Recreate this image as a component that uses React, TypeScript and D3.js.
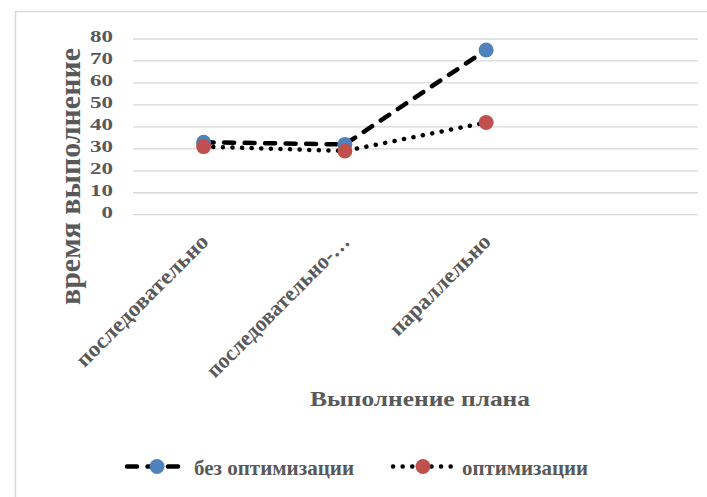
import React from "react";
import * as d3 from "d3";

const categories = ["последовательно", "последовательно-…", "параллельно", ""];
const seriesNames = ["без оптимизации", "оптимизации"];
const noOpt = [33, 32, 75];
const opt = [31, 29, 42];
const yTicks = [0, 10, 20, 30, 40, 50, 60, 70, 80];

const W = 707;
const H = 497;
const TEXT = "#595959";
const GRID = "#d9d9d9";
const BLUE = "#4f81bd";
const RED = "#c0504d";
const FONT = "Liberation Serif, Times New Roman, serif";

export default function App() {
  const x = d3.scaleBand<number>().domain(d3.range(categories.length)).range([133, 698]).padding(0);
  const y = d3.scaleLinear().domain([0, 80]).range([214.7, 39]);
  const cx = (i: number) => (x(i) as number) + x.bandwidth() / 2;
  const line = d3.line<number>().x((_, i) => cx(i)).y((d) => y(d));

  const catLens = [177, 192, 133];
  const ts = { fontFamily: FONT, fontWeight: 700 } as React.CSSProperties;

  return (
    <svg width={W} height={H} style={{ position: "absolute", left: 0, top: 0 }}>
      <rect x={0} y={0} width={W} height={H} fill="#fff" />
      <rect x={15.5} y={11.5} width={W + 20} height={H + 20} fill="#fff" stroke={GRID} strokeWidth={1.5} />
      {yTicks.map((t) => (
        <line key={t} x1={133} x2={698} y1={y(t)} y2={y(t)} stroke={GRID} strokeWidth={1.3} />
      ))}
      {yTicks.map((t) => (
        <text
          key={t}
          x={113}
          y={y(t) + 3}
          textAnchor="end"
          fontSize={17}
          fill={TEXT}
          style={ts}
          textLength={String(t).length * 11.5}
          lengthAdjust="spacingAndGlyphs"
        >
          {t}
        </text>
      ))}
      <text
        transform={`translate(80,176.5) rotate(-90)`}
        textAnchor="middle"
        fontSize={30}
        fill={TEXT}
        style={ts}
        textLength={257}
        lengthAdjust="spacingAndGlyphs"
      >
        время выполнение
      </text>
      {categories.slice(0, 3).map((c, i) => (
        <text
          key={i}
          transform={`translate(${cx(i) + 6},${243}) rotate(-45)`}
          textAnchor="end"
          fontSize={22}
          fill={TEXT}
          style={ts}
          textLength={catLens[i]}
          lengthAdjust="spacingAndGlyphs"
        >
          {c}
        </text>
      ))}
      <text x={310} y={406} fontSize={21} fill={TEXT} style={ts} textLength={220} lengthAdjust="spacingAndGlyphs">
        Выполнение плана
      </text>
      <path d={line(noOpt) || ""} fill="none" stroke="#000" strokeWidth={4.5} strokeDasharray="10 10.5" strokeLinecap="round" />
      <path d={line(opt) || ""} fill="none" stroke="#000" strokeWidth={4.5} strokeDasharray="0.1 9.5" strokeLinecap="round" />
      {noOpt.map((v, i) => (
        <circle key={"b" + i} cx={cx(i)} cy={y(v)} r={7.5} fill={BLUE} />
      ))}
      {opt.map((v, i) => (
        <circle key={"r" + i} cx={cx(i)} cy={y(v)} r={7.5} fill={RED} />
      ))}
      <line x1={127} x2={188} y1={466.5} y2={466.5} stroke="#000" strokeWidth={4.5} strokeDasharray="10 10.5" strokeLinecap="round" />
      <circle cx={157} cy={466.5} r={7.5} fill={BLUE} />
      <text x={194} y={475} fontSize={22} fill={TEXT} style={ts} textLength={160} lengthAdjust="spacingAndGlyphs">
        {seriesNames[0]}
      </text>
      <line x1={393} x2={454} y1={466.5} y2={466.5} stroke="#000" strokeWidth={4.5} strokeDasharray="0.1 9.5" strokeLinecap="round" />
      <circle cx={423} cy={466.5} r={7.5} fill={RED} />
      <text x={462} y={475} fontSize={22} fill={TEXT} style={ts} textLength={126} lengthAdjust="spacingAndGlyphs">
        {seriesNames[1]}
      </text>
    </svg>
  );
}
